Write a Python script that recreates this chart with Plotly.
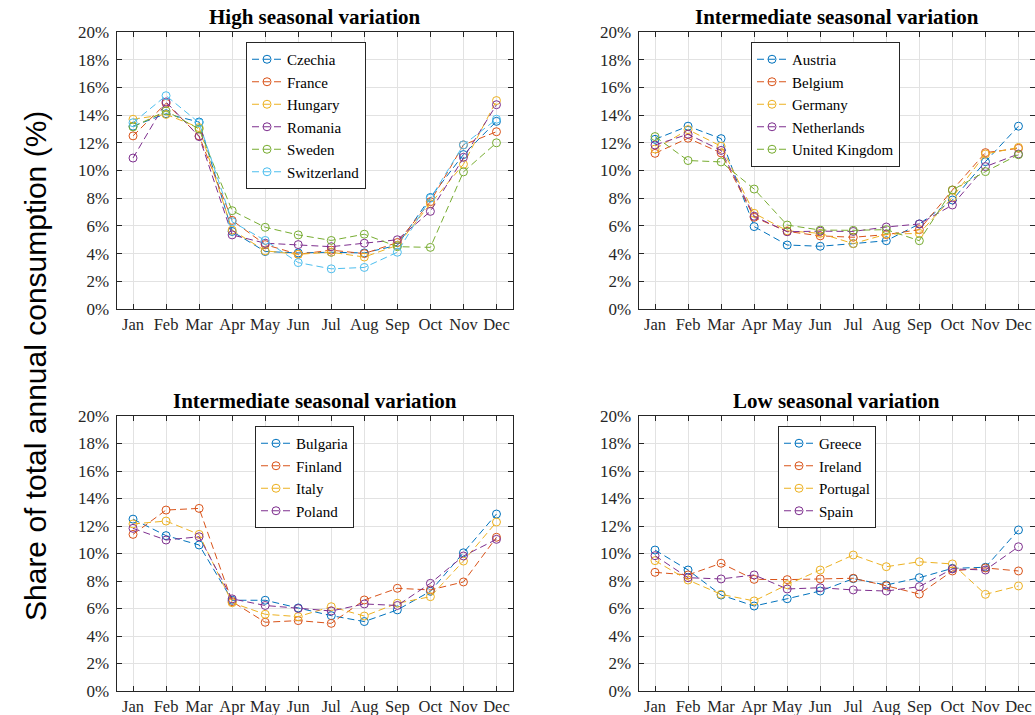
import plotly.graph_objects as go

months = ["Jan", "Feb", "Mar", "Apr", "May", "Jun", "Jul", "Aug", "Sep", "Oct", "Nov", "Dec"]
month_idx = list(range(1, 13))

# Panel 1: High seasonal variation
high_names = ["Czechia", "France", "Hungary", "Romania", "Sweden", "Switzerland"]
czechia = [13.2, 14.1, 13.5, 5.6, 4.15, 4.05, 4.1, 4.05, 4.6, 8.05, 11.15, 13.55]
france = [12.5, 14.85, 12.5, 6.4, 4.65, 3.95, 4.25, 4.0, 4.8, 7.75, 11.85, 12.8]
hungary = [13.7, 14.05, 13.1, 5.7, 4.2, 3.95, 4.1, 3.75, 4.6, 7.6, 10.45, 15.05]
romania = [10.9, 14.95, 12.45, 5.35, 4.75, 4.65, 4.5, 4.75, 5.0, 7.05, 10.95, 14.75]
sweden = [13.15, 14.3, 13.0, 7.1, 5.9, 5.35, 4.95, 5.4, 4.5, 4.45, 9.9, 12.0]
switzerland = [13.45, 15.4, 13.45, 6.3, 4.95, 3.35, 2.9, 3.0, 4.1, 8.0, 11.85, 13.7]

# Panel 2: Intermediate seasonal variation (top right)
inter1_names = ["Austria", "Belgium", "Germany", "Netherlands", "United Kingdom"]
austria = [12.25, 13.2, 12.3, 5.95, 4.62, 4.53, 4.72, 4.93, 6.14, 7.87, 10.64, 13.2]
belgium = [11.24, 12.33, 11.27, 6.62, 5.6, 5.28, 5.18, 5.37, 5.73, 8.59, 11.29, 11.6]
germany = [11.55, 12.95, 11.75, 6.91, 5.65, 5.46, 4.72, 5.4, 5.46, 8.06, 11.19, 11.67]
netherlands = [11.84, 12.62, 11.45, 6.7, 5.58, 5.62, 5.6, 5.92, 6.14, 7.51, 10.28, 11.19]
united_kingdom = [12.45, 10.72, 10.62, 8.66, 6.06, 5.7, 5.68, 5.73, 4.93, 8.59, 9.92, 11.14]

# Panel 3: Intermediate seasonal variation (bottom left)
inter2_names = ["Bulgaria", "Finland", "Italy", "Poland"]
bulgaria = [12.5, 11.3, 10.62, 6.6, 6.6, 6.04, 5.48, 5.05, 5.9, 7.25, 10.05, 12.87]
finland = [11.39, 13.16, 13.28, 6.5, 5.0, 5.12, 4.92, 6.62, 7.47, 7.35, 7.93, 11.18]
italy = [12.15, 12.36, 11.39, 6.42, 5.58, 5.41, 6.13, 5.45, 6.38, 6.86, 9.45, 12.29]
poland = [11.83, 10.98, 11.22, 6.7, 6.22, 6.0, 5.82, 6.33, 6.22, 7.83, 9.82, 11.03]

# Panel 4: Low seasonal variation
low_names = ["Greece", "Ireland", "Portugal", "Spain"]
greece = [10.25, 8.8, 6.98, 6.18, 6.71, 7.27, 8.17, 7.71, 8.24, 8.92, 9.0, 11.71]
ireland = [8.63, 8.44, 9.29, 8.12, 8.1, 8.15, 8.2, 7.65, 7.05, 8.73, 8.95, 8.73]
portugal = [9.48, 8.07, 7.03, 6.55, 7.73, 8.8, 9.89, 9.04, 9.4, 9.24, 7.03, 7.64]
spain = [9.84, 8.24, 8.15, 8.44, 7.42, 7.51, 7.35, 7.27, 7.59, 8.88, 8.8, 10.49]

titles = ["High seasonal variation", "Intermediate seasonal variation",
          "Intermediate seasonal variation", "Low seasonal variation"]
y_title = "Share of total annual consumption (%)"

colors = ["#0072BD", "#D95319", "#EDB120", "#7E2F8E", "#77AC30", "#4DBEEE"]

panels = [
    (high_names, [czechia, france, hungary, romania, sweden, switzerland]),
    (inter1_names, [austria, belgium, germany, netherlands, united_kingdom]),
    (inter2_names, [bulgaria, finland, italy, poland]),
    (low_names, [greece, ireland, portugal, spain]),
]

W, H = 1035, 715
SERIF = "Liberation Serif"
INK = "#262626"

def px_x(p):
    return p / W

def px_y(p):
    return 1 - p / H

# plot-area pixel boxes (left, right, top, bottom)
boxes = [(116.5, 513, 32, 309), (638.5, 1035, 32, 309),
         (116.5, 513, 416, 691), (638.5, 1035, 416, 691)]
legend_pos = [(246, 42), (751, 42), (255, 426), (778, 426)]

fig = go.Figure()
layout = dict(
    width=W, height=H, autosize=False,
    margin=dict(l=0, r=0, t=0, b=0, pad=0, autoexpand=False),
    paper_bgcolor="white", plot_bgcolor="white",
    font=dict(family=SERIF, color=INK, size=17),
    annotations=[],
)

for i, (names, series) in enumerate(panels):
    n = i + 1
    xa = "x" if n == 1 else f"x{n}"
    ya = "y" if n == 1 else f"y{n}"
    lg = "legend" if n == 1 else f"legend{n}"
    for j, (name, vals) in enumerate(zip(names, series)):
        fig.add_trace(go.Scatter(
            x=month_idx, y=vals, name=name, mode="lines+markers",
            xaxis=xa, yaxis=ya, legend=lg,
            line=dict(color=colors[j], width=1, dash="7px,4px"),
            marker=dict(symbol="circle-open", size=8, color=colors[j],
                        line=dict(width=1, color=colors[j])),
        ))
    l, r, t, b = boxes[i]
    common = dict(
        showline=True, linecolor=INK, linewidth=1, mirror="ticks",
        ticks="inside", ticklen=5, tickcolor=INK, tickwidth=1,
        showgrid=True, gridcolor="#e2e2e2", gridwidth=1, zeroline=False,
        tickfont=dict(family=SERIF, size=17, color=INK),
        fixedrange=True, automargin=False,
    )
    layout["xaxis" if n == 1 else f"xaxis{n}"] = dict(
        common, domain=[px_x(l), min(1.0, px_x(r))], anchor=ya,
        range=[0.5, 12.5], tickvals=month_idx, ticktext=months,
        ticklabelstandoff=0,
        tickfont=dict(family=SERIF, size=16.5, color=INK),
    )
    layout["yaxis" if n == 1 else f"yaxis{n}"] = dict(
        common, domain=[px_y(b), px_y(t)], anchor=xa,
        range=[0, 20], tickvals=list(range(0, 21, 2)),
        ticktext=[f"{v}%" for v in range(0, 21, 2)],
        ticklabelstandoff=3,
    )
    lx, ly = legend_pos[i]
    layout[lg] = dict(
        x=px_x(lx), y=px_y(ly), xanchor="left", yanchor="top",
        bgcolor="white", bordercolor=INK, borderwidth=1,
        font=dict(family=SERIF, size=15, color="black"),
        tracegroupgap=0, itemwidth=30,
    )
    layout["annotations"].append(dict(
        text=f"<b>{titles[i]}</b>", xref="paper", yref="paper",
        x=px_x((l + r) / 2), y=px_y(17 if i < 2 else 401),
        xanchor="center", yanchor="middle", showarrow=False,
        font=dict(family=SERIF, size=21, color="black"),
    ))

layout["annotations"].append(dict(
    text=y_title, xref="paper", yref="paper", x=px_x(35), y=px_y(366),
    xanchor="center", yanchor="middle", textangle=-90, showarrow=False,
    font=dict(family="Liberation Sans", size=30, color="black"),
))

fig.update_layout(**layout)
fig.write_html("out.html")
